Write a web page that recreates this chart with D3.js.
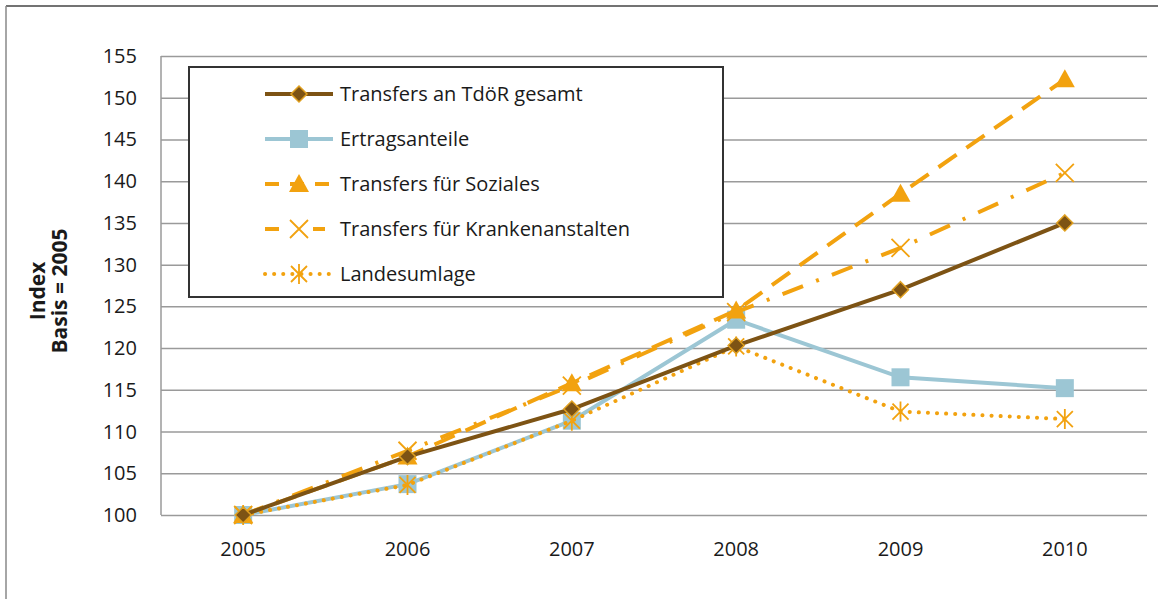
<!DOCTYPE html>
<html>
<head>
<meta charset="utf-8">
<script src="https://cdn.jsdelivr.net/npm/d3@7"></script>
<style>
  body { margin: 0; background: #fff; }
  svg text { font-family: "Open Sans", Lato, sans-serif; fill: #1a1a1a; }
</style>
</head>
<body>
<div id="viz"></div>
<script>
const years = ["2005", "2006", "2007", "2008", "2009", "2010"];
const yTicks = [100, 105, 110, 115, 120, 125, 130, 135, 140, 145, 150, 155];

const seriesNames = [
  "Transfers an TdöR gesamt",
  "Ertragsanteile",
  "Transfers für Soziales",
  "Transfers für Krankenanstalten",
  "Landesumlage"
];
const tdoer = [100, 107, 112.7, 120.3, 127, 135];
const ertrag = [100, 103.7, 111.3, 123.4, 116.5, 115.2];
const soziales = [100, 107, 115.8, 124.5, 138.5, 152.2];
const kranken = [100, 107.7, 115.5, 124.3, 132, 141];
const umlage = [100, 103.6, 111.3, 120.2, 112.4, 111.5];

const brown = "#7d5314", blue = "#9cc6d4", orange = "#f2a20f";

const styles = [
  {values: tdoer, color: brown, dash: null, marker: "diamond"},
  {values: ertrag, color: blue, dash: null, marker: "square"},
  {values: soziales, color: orange, dash: "22,12", marker: "triangle"},
  {values: kranken, color: orange, dash: "22,14,3,14", marker: "cross"},
  {values: umlage, color: orange, dash: "0.1,9", marker: "star"}
];

const W = 1162, H = 599;
const svg = d3.select("#viz").append("svg")
  .attr("width", W).attr("height", H);

// outer frame (top and left only)
svg.append("line").attr("x1", 6).attr("x2", 1158).attr("y1", 6).attr("y2", 6)
  .attr("stroke", "#444").attr("stroke-width", 1.5);
svg.append("line").attr("x1", 6).attr("x2", 6).attr("y1", 6).attr("y2", H)
  .attr("stroke", "#888").attr("stroke-width", 1.5);

const plot = {left: 161, right: 1147, top: 56, bottom: 515};

const x = d3.scaleBand().domain(years).range([plot.left, plot.right]);
const y = d3.scaleLinear().domain([100, 155]).range([plot.bottom, plot.top]);

// gridlines
svg.append("g")
  .attr("transform", `translate(${plot.left},0)`)
  .call(d3.axisLeft(y).tickValues(yTicks).tickSize(-(plot.right - plot.left)).tickFormat(""))
  .call(g => g.select(".domain").remove())
  .selectAll("line").attr("stroke", "#9a9a9a").attr("stroke-width", 1.5);

svg.append("line")
  .attr("x1", plot.left).attr("x2", plot.left).attr("y1", plot.top).attr("y2", plot.bottom)
  .attr("stroke", "#9a9a9a").attr("stroke-width", 1.5);

// y tick labels
svg.append("g").selectAll("text").data(yTicks).join("text")
  .attr("x", 137).attr("y", d => y(d) + 7)
  .attr("text-anchor", "end")
  .style("font-size", "20px")
  .text(d => d);

// x tick labels
svg.append("g").selectAll("text").data(years).join("text")
  .attr("x", d => x(d) + x.bandwidth() / 2).attr("y", 556)
  .attr("text-anchor", "middle")
  .style("font-size", "20px")
  .text(d => d);

// y axis title
const yt = svg.append("text")
  .attr("transform", "translate(0,291) rotate(-90)")
  .attr("text-anchor", "middle")
  .style("font-size", "21px").style("font-weight", "bold");
yt.append("tspan").attr("x", 0).attr("y", 45).text("Index");
yt.append("tspan").attr("x", 0).attr("y", 67).text("Basis = 2005");

function drawMarker(g, type, color) {
  if (type === "diamond") {
    g.append("path").attr("d", "M0,-8L8,0L0,8L-8,0Z")
      .attr("fill", brown).attr("stroke", "#e0a020").attr("stroke-width", 1.5);
  } else if (type === "square") {
    g.append("rect").attr("x", -9).attr("y", -9).attr("width", 18).attr("height", 18)
      .attr("fill", blue);
  } else if (type === "triangle") {
    g.append("path").attr("d", "M0,-10L10,8L-10,8Z").attr("fill", orange);
  } else if (type === "cross") {
    g.append("path").attr("d", "M-9,-9L9,9M-9,9L9,-9")
      .attr("stroke", orange).attr("stroke-width", 1.8).attr("fill", "none");
  } else if (type === "star") {
    g.append("path").attr("d", "M-8,-8L8,8M-8,8L8,-8M0,-10L0,10")
      .attr("stroke", orange).attr("stroke-width", 1.8).attr("fill", "none");
  }
}

const line = d3.line()
  .x((d, i) => x(years[i]) + x.bandwidth() / 2)
  .y(d => y(d));

// draw series in reverse so the total sits on top
[1, 4, 3, 2, 0].forEach(k => {
  const s = styles[k];
  svg.append("path")
    .datum(s.values)
    .attr("d", line)
    .attr("fill", "none")
    .attr("stroke", s.color)
    .attr("stroke-width", 4)
    .attr("stroke-linecap", s.marker === "star" ? "round" : "butt")
    .attr("stroke-dasharray", s.dash);
  s.values.forEach((v, i) => {
    const g = svg.append("g")
      .attr("transform", `translate(${x(years[i]) + x.bandwidth() / 2},${y(v)})`);
    drawMarker(g, s.marker, s.color);
  });
});

// legend
const legend = svg.append("g");
legend.append("rect")
  .attr("x", 189).attr("y", 67).attr("width", 534).attr("height", 230)
  .attr("fill", "#fff").attr("stroke", "#333").attr("stroke-width", 2);

seriesNames.forEach((name, i) => {
  const s = styles[i];
  const ly = 94 + i * 45;
  legend.append("line")
    .attr("x1", 265).attr("x2", 333).attr("y1", ly).attr("y2", ly)
    .attr("stroke", s.color).attr("stroke-width", 4)
    .attr("stroke-linecap", s.marker === "star" ? "round" : "butt")
    .attr("stroke-dasharray", s.marker === "triangle" ? "14,11" :
      s.marker === "cross" ? "14,34,12" : s.dash);
  const g = legend.append("g").attr("transform", `translate(299,${ly})`);
  drawMarker(g, s.marker, s.color);
  legend.append("text")
    .attr("x", 340).attr("y", ly + 7)
    .style("font-size", "20px")
    .text(name);
});
</script>
</body>
</html>
